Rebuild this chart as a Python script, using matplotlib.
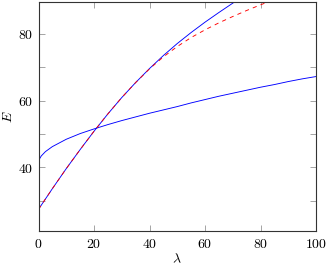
import matplotlib
matplotlib.use("Agg")
import matplotlib.pyplot as plt
from matplotlib.ticker import FixedLocator, FuncFormatter

# Values
lam_low = [0, 1, 2.5, 5, 10, 15, 20, 25, 30, 35, 40, 45, 50, 55, 60, 65, 70, 75, 80, 85, 90, 95, 100]
E_low = [42.0, 43.4, 44.7, 46.2, 48.4, 50.1, 51.5, 52.8, 54.0, 55.1, 56.2, 57.2, 58.2, 59.3,
         60.3, 61.3, 62.2, 63.1, 64.0, 64.8, 65.7, 66.5, 67.2]

lam_up = [0, 5, 10, 15, 20, 25, 30, 35, 40, 45, 50, 55, 60, 65, 70, 75]
E_up = [27.4, 33.6, 39.6, 45.3, 50.8, 56.0, 60.9, 65.4, 69.6, 73.5, 77.1, 80.4, 83.5, 86.4, 89.2, 91.9]

lam_red = [0, 5, 10, 15, 20, 25, 30, 35, 40, 45, 50, 55, 60, 65, 70, 75, 80, 85, 90]
E_red = [27.4, 33.6, 39.6, 45.3, 50.8, 56.0, 60.9, 65.4, 69.5, 73.1, 76.2, 78.9, 81.2, 83.3,
         85.2, 87.0, 88.7, 90.3, 91.8]

x_ticks = [0, 20, 40, 60, 80, 100]
y_ticks = [30, 40, 50, 60, 70, 80]
y_labels = [40, 60, 80]

plt.rcParams['mathtext.fontset'] = 'cm'
plt.rcParams['font.family'] = 'serif'
plt.rcParams['font.serif'] = ['DejaVu Serif']
plt.rcParams['lines.scale_dashes'] = False

fig = plt.figure(figsize=(3.27, 2.67), dpi=100)
ax = fig.add_axes([38.5 / 327, 36 / 267, (316 - 38.5) / 327, (231 - 1.5) / 267])

ax.plot(lam_low, E_low, color='#0000ff', lw=0.65)
ax.plot(lam_up, E_up, color='#0000ff', lw=0.65)
ax.plot(lam_red, E_red, color='#ff0000', lw=0.65, dashes=(3, 3))

ax.set_xlim(0, 100)
ax.set_ylim(20.9, 89.7)

ax.xaxis.set_major_locator(FixedLocator(x_ticks))
ax.yaxis.set_major_locator(FixedLocator(y_ticks))
ax.xaxis.set_major_formatter(FuncFormatter(lambda v, p: r'$%d$' % v))
ax.yaxis.set_major_formatter(FuncFormatter(lambda v, p: r'$%d$' % v if int(v) in y_labels else ''))
ax.tick_params(direction='in', length=4.25, width=0.5, color='#808080',
               top=True, right=True, labelsize=10, pad=4)

for s in ax.spines.values():
    s.set_linewidth(0.8)
    s.set_color('#333333')

ax.set_xlabel(r'$\lambda$', fontsize=10, labelpad=1)
ax.set_ylabel(r'$E$', fontsize=10, labelpad=2)

fig.savefig('out.png', dpi=100)
